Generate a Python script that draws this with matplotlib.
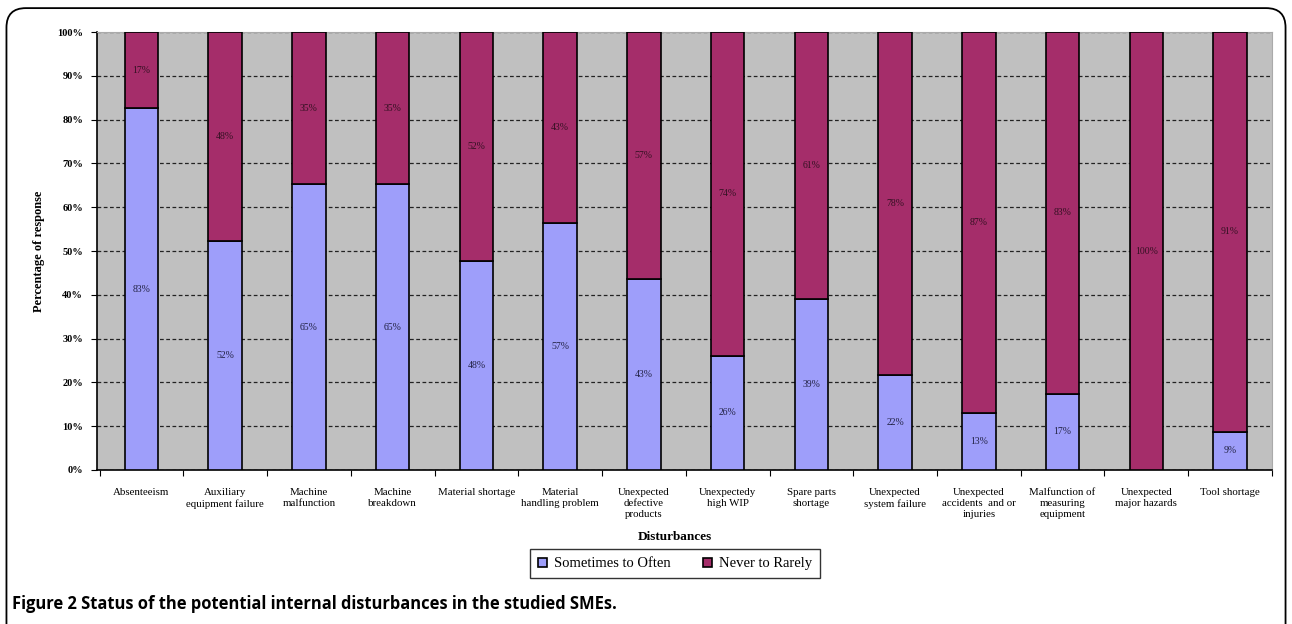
import numpy as np
import matplotlib.pyplot as plt
from matplotlib.patches import FancyBboxPatch

categories = ["Absenteeism", "Auxiliary\nequipment failure", "Machine\nmalfunction",
              "Machine\nbreakdown", "Material shortage", "Material\nhandling problem",
              "Unexpected\ndefective\nproducts", "Unexpectedy\nhigh WIP",
              "Spare parts\nshortage", "Unexpected\nsystem failure",
              "Unexpected\naccidents  and or\ninjuries", "Malfunction of\nmeasuring\nequipment",
              "Unexpected\nmajor hazards", "Tool shortage"]
sometimes = [82.6, 52.2, 65.2, 65.2, 47.8, 56.5, 43.5, 26.1, 39.1, 21.7, 13.0, 17.4, 0.0, 8.7]
never = [17.4, 47.8, 34.8, 34.8, 52.2, 43.5, 56.5, 73.9, 60.9, 78.3, 87.0, 82.6, 100.0, 91.3]
sometimes_lbl = ["83%", "52%", "65%", "65%", "48%", "57%", "43%", "26%", "39%", "22%", "13%", "17%", "", "9%"]
never_lbl = ["17%", "48%", "35%", "35%", "52%", "43%", "57%", "74%", "61%", "78%", "87%", "83%", "100%", "91%"]

serif = "Liberation Serif"
blue = "#9e9efa"
maroon = "#a52d6a"

fig = plt.figure(figsize=(12.92, 6.24), dpi=100)
ax = fig.add_axes([0.0751, 0.2468, 0.9094, 0.7019])

# rounded frame around the figure
frame = FancyBboxPatch((0.005, -0.05), 0.99, 1.037, boxstyle="round,pad=0,rounding_size=0.015",
                       transform=fig.transFigure, fill=False, edgecolor="black", lw=1.3,
                       mutation_aspect=1292 / 624)
fig.patches.append(frame)

x = np.arange(len(categories))
ax.set_facecolor("#c0c0c0")
b1 = ax.bar(x, sometimes, width=0.4, color=blue, edgecolor="black", lw=1.2, zorder=3,
            label="Sometimes to Often")
b2 = ax.bar(x, never, width=0.4, bottom=sometimes, color=maroon, edgecolor="black", lw=1.2,
            zorder=3, label="Never to Rarely")

for i in range(len(categories)):
    if sometimes_lbl[i]:
        ax.text(x[i], sometimes[i] / 2, sometimes_lbl[i], ha="center", va="center",
                fontsize=7, family=serif, color="#222244", zorder=4)
    ax.text(x[i], sometimes[i] + never[i] / 2, never_lbl[i], ha="center", va="center",
            fontsize=7, family=serif, color="#331122", zorder=4)

ax.set_xlim(-0.53, 13.5)
ax.set_ylim(0, 100)
ax.set_yticks(np.arange(0, 101, 10))
ax.set_yticklabels([f"{v}%" for v in range(0, 101, 10)], fontsize=7.5, family=serif,
                   fontweight="bold")
ax.yaxis.grid(True, linestyle=(0, (3, 2)), color="#222222", lw=0.9, zorder=1)
ax.set_xticks(np.arange(-0.5, 13.6, 1), minor=False)
ax.set_xticklabels([])
ax.set_xticks(x, minor=True)
ax.set_xticklabels(categories, minor=True, fontsize=7.8, family=serif, va="top",
                   linespacing=1.25)
ax.tick_params(axis="x", which="minor", length=0, pad=13)
ax.tick_params(axis="x", which="major", length=4, direction="out")
ax.tick_params(axis="y", length=4, direction="out", pad=6)
ax.spines["top"].set_color("#aaaaaa")
ax.spines["right"].set_color("#aaaaaa")
ax.spines["left"].set_linewidth(1.2)
ax.spines["bottom"].set_linewidth(1.2)

ax.set_ylabel("Percentage of response", fontsize=9, family=serif, fontweight="bold", labelpad=9)
fig.text(0.522, 0.139, "Disturbances", ha="center", va="center", fontsize=9.5, family=serif,
         fontweight="bold")

fig.legend(handles=[b1, b2], loc="center", bbox_to_anchor=(0.5225, 0.0965), ncol=2,
           frameon=True, fancybox=False, edgecolor="black", prop={"family": serif, "size": 10.5},
           handlelength=0.6, handleheight=0.6, handletextpad=0.5, columnspacing=2.2,
           borderpad=0.55, borderaxespad=0)

fig.text(0.009, 0.032, "Figure 2 Status of the potential internal disturbances in the studied SMEs.",
         fontsize=11.9, fontweight="bold", family="Open Sans", ha="left", va="center")

fig.savefig("out.png", dpi=100)
